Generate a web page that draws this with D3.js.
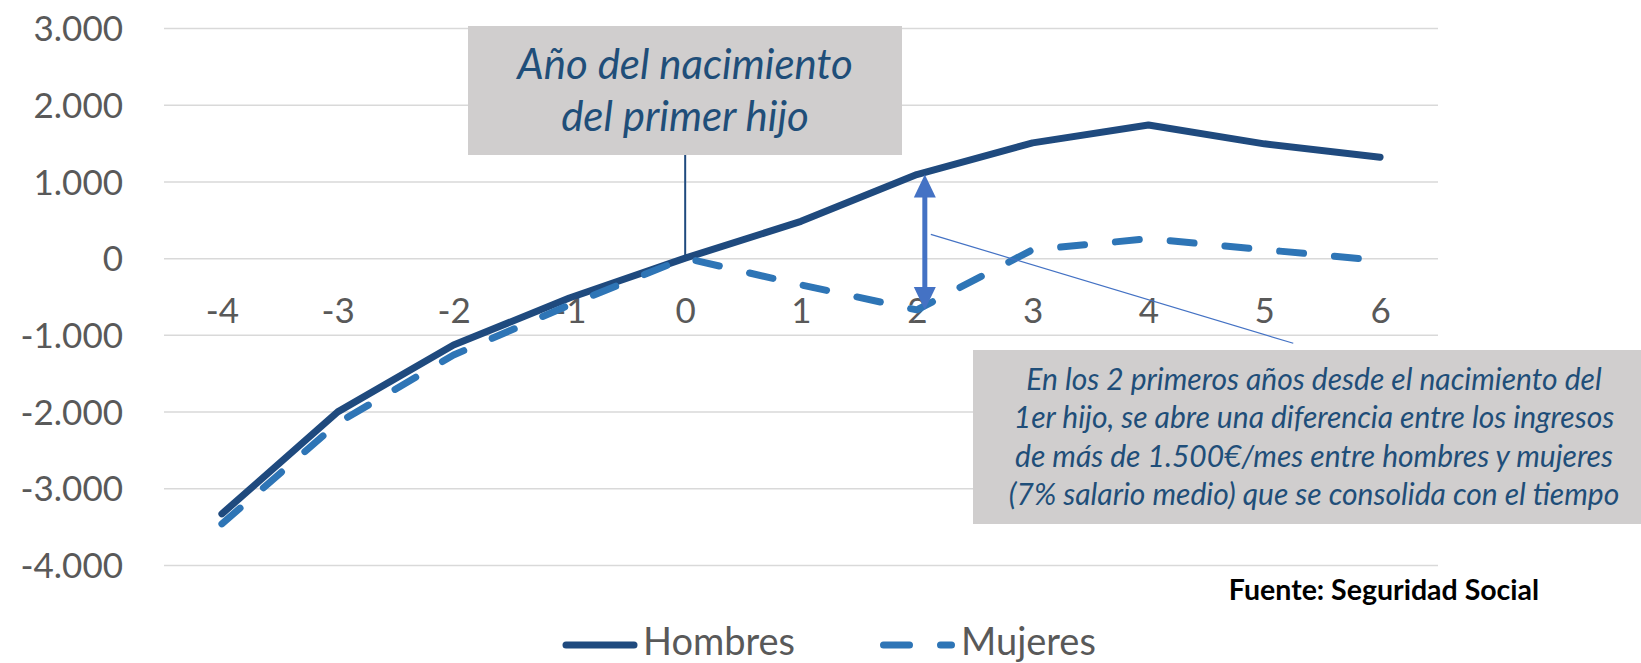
<!DOCTYPE html>
<html>
<head>
<meta charset="utf-8">
<script src="https://cdn.jsdelivr.net/npm/d3@7"></script>
<style>
    body { margin: 0; background: #fff; }
    svg { display: block; font-family: Lato, "Open Sans", sans-serif; }
</style>
</head>
<body>
<div id="chart"></div>
<script>

// data
const years = ["-4", "-3", "-2", "-1", "0", "1", "2", "3", "4", "5", "6"];
const hombres = [-3333, -2004, -1133, -520, 0, 480, 1090, 1503, 1735, 1490, 1316];
const mujeres = [-3464, -2150, -1263, -610, 0, -348, -675, 110, 253, 110, -30];
const yTicks = [-4000, -3000, -2000, -1000, 0, 1000, 2000, 3000];
const seriesNames = ["Hombres", "Mujeres"];
const note1 = ["Año del nacimiento", "del primer hijo"];
const note2 = [
    "En los 2 primeros años desde el nacimiento del",
    "1er hijo, se abre una diferencia entre los ingresos",
    "de más de 1.500€/mes entre hombres y mujeres",
    "(7% salario medio) que se consolida con el tiempo"
];
const source = "Fuente: Seguridad Social";

const W = 1641, H = 663;
const darkBlue = "#1F4A7E", midBlue = "#2E75B6", arrowBlue = "#4472C4", grey = "#595959";

const svg = d3.select("#chart").append("svg")
    .attr("width", W)
    .attr("height", H);

// scales
let x = d3.scalePoint().domain(years).range([164, 1438]).padding(0.5);
let y = d3.scaleLinear().domain([-4000, 3000]).range([565, 28]);

let es = d3.formatLocale({decimal: ",", thousands: ".", grouping: [3], currency: ["", "€"], minus: "-"});

// y axis + gridlines
let yAxis = svg.append("g")
    .attr("transform", "translate(164,0)")
    .call(d3.axisLeft(y).tickValues(yTicks).tickSize(-(1438 - 164)).tickPadding(41).tickFormat(es.format(",")));
yAxis.select(".domain").remove();
yAxis.selectAll("line").attr("stroke", "#D9D9D9").attr("stroke-width", 1.5);
yAxis.selectAll("text").attr("fill", grey).attr("font-size", 35).attr("dy", "0.36em")
    .style("font-family", "Lato, sans-serif");

// x axis (labels only)
let xAxis = svg.append("g")
    .attr("transform", "translate(0,298)")
    .call(d3.axisBottom(x).tickSize(0).tickPadding(0));
xAxis.select(".domain").remove();
xAxis.selectAll("text").attr("fill", grey).attr("font-size", 35)
    .style("font-family", "Lato, sans-serif");

// annotation box 1
svg.append("rect")
    .attr("x", 468).attr("y", 26).attr("width", 434).attr("height", 129)
    .attr("fill", "#D0CECE");
svg.append("line")
    .attr("x1", x("0")).attr("x2", x("0"))
    .attr("y1", 155).attr("y2", y(0))
    .attr("stroke", darkBlue).attr("stroke-width", 2);
svg.selectAll(".note1")
    .data(note1)
    .enter().append("text")
    .attr("class", "note1")
    .attr("x", 685)
    .attr("y", (d, i) => 79 + i * 52)
    .attr("text-anchor", "middle")
    .attr("font-style", "italic")
    .attr("font-size", 42)
    .attr("fill", "#1F4E79")
    .text(d => d);

// lines
let line = d3.line().x((d, i) => x(years[i])).y(d => y(d));

svg.append("path")
    .datum(hombres)
    .attr("d", line)
    .attr("fill", "none")
    .attr("stroke", darkBlue)
    .attr("stroke-width", 7)
    .attr("stroke-linejoin", "round")
    .attr("stroke-linecap", "round");

svg.append("path")
    .datum(mujeres)
    .attr("d", line)
    .attr("fill", "none")
    .attr("stroke", midBlue)
    .attr("stroke-width", 7)
    .attr("stroke-dasharray", "24,31")
    .attr("stroke-linejoin", "round")
    .attr("stroke-linecap", "round");

// double arrow at year 2
let ax = x("2") + 8;
let yTop = y(hombres[6]), yBot = y(mujeres[6]);
svg.append("line")
    .attr("x1", ax).attr("x2", ax)
    .attr("y1", yTop + 18).attr("y2", yBot - 18)
    .attr("stroke", arrowBlue).attr("stroke-width", 5);
svg.append("path")
    .attr("d", `M${ax},${yTop} L${ax - 11},${yTop + 23} L${ax + 11},${yTop + 23} Z`)
    .attr("fill", arrowBlue);
svg.append("path")
    .attr("d", `M${ax},${yBot} L${ax - 11},${yBot - 23} L${ax + 11},${yBot - 23} Z`)
    .attr("fill", arrowBlue);

// thin pointer to second note
svg.append("line")
    .attr("x1", ax + 6).attr("y1", y(310))
    .attr("x2", x("5") + 29).attr("y2", y(-1110))
    .attr("stroke", arrowBlue).attr("stroke-width", 1.2);

// annotation box 2
svg.append("rect")
    .attr("x", 973).attr("y", 350).attr("width", 700).attr("height", 174)
    .attr("fill", "#D0CECE");
svg.selectAll(".note2")
    .data(note2)
    .enter().append("text")
    .attr("class", "note2")
    .attr("x", 1314)
    .attr("y", (d, i) => 390 + i * 38.3)
    .attr("text-anchor", "middle")
    .attr("font-style", "italic")
    .attr("font-size", 30)
    .attr("fill", "#1F4E79")
    .text(d => d);

// source
svg.append("text")
    .attr("x", 1384).attr("y", 600)
    .attr("text-anchor", "middle")
    .attr("font-weight", "bold")
    .attr("font-size", 28.5)
    .attr("fill", "#000")
    .text(source);

// legend
let legend = svg.append("g").attr("class", "legend");
legend.append("line")
    .attr("x1", 566).attr("x2", 634).attr("y1", 645).attr("y2", 645)
    .attr("stroke", darkBlue).attr("stroke-width", 7).attr("stroke-linecap", "round");
legend.append("text")
    .attr("x", 643).attr("y", 655)
    .attr("font-size", 38).attr("fill", grey)
    .text(seriesNames[0]);
legend.append("line")
    .attr("x1", 883.5).attr("x2", 951.5).attr("y1", 645).attr("y2", 645)
    .attr("stroke", midBlue).attr("stroke-width", 7).attr("stroke-linecap", "round")
    .attr("stroke-dasharray", "26,31");
legend.append("text")
    .attr("x", 961).attr("y", 655)
    .attr("font-size", 38).attr("fill", grey)
    .text(seriesNames[1]);

</script>
</body>
</html>
